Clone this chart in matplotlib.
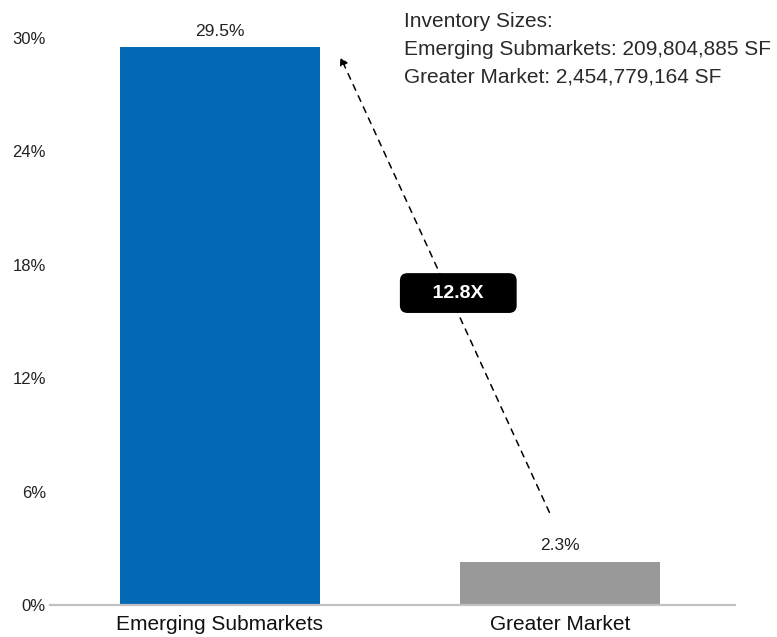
import matplotlib
matplotlib.use("Agg")
import matplotlib.pyplot as plt

categories = ["Emerging Submarkets", "Greater Market"]
values = [29.5, 2.3]
value_labels = ["29.5%", "2.3%"]
bar_colors = ["#0469b4", "#999999"]
yticks = [0, 6, 12, 18, 24, 30]
ytick_labels = ["0%", "6%", "12%", "18%", "24%", "30%"]
ratio_label = "12.8X"
inventory_lines = ["Inventory Sizes:",
                   "Emerging Submarkets: 209,804,885 SF",
                   "Greater Market: 2,454,779,164 SF"]

plt.rcParams["font.family"] = ["Liberation Sans", "DejaVu Sans"]

fig = plt.figure(figsize=(7.77, 6.37), dpi=100)
ax = fig.add_axes([50 / 777, 32 / 637, 685 / 777, 605 / 637])

x = list(range(len(categories)))
ax.bar(x, values, width=0.587, color=bar_colors, zorder=2)
for xi, v, lab in zip(x, values, value_labels):
    ax.annotate(lab, (xi, v), xytext=(0, 6), textcoords="offset points",
                ha="center", va="bottom", fontsize=12.5, color="#222222")

ax.set_xlim(-0.5, 1.515)
ax.set_ylim(0, 32)
ax.set_yticks(yticks)
ax.set_yticklabels(ytick_labels, fontsize=12, color="#222222")
ax.set_xticks(x)
ax.set_xticklabels(categories, fontsize=15, color="#111111")
ax.tick_params(axis="both", length=0)
ax.tick_params(axis="y", pad=3)
ax.tick_params(axis="x", pad=7)
for side in ["top", "right", "left"]:
    ax.spines[side].set_visible(False)
ax.spines["bottom"].set_color("#c0c0c0")
ax.spines["bottom"].set_linewidth(1.6)

# dashed arrow from the small bar up to the big one
ax.annotate("", xy=(0.354, 29.0), xytext=(0.969, 4.9),
            arrowprops=dict(arrowstyle="-|>", linestyle=(0, (4, 4)), lw=1.1,
                            color="black", mutation_scale=12,
                            shrinkA=0, shrinkB=0))
ax.text(0.701, 16.5, "    " + ratio_label + "    ", ha="center", va="center",
        fontsize=14, fontweight="bold", color="white", zorder=5,
        bbox=dict(boxstyle="round,pad=0.55,rounding_size=0.35",
                  fc="black", ec="black"))

fig.text(404 / 777, 1 - 12 / 637, "\n".join(inventory_lines), ha="left", va="top",
         fontsize=15, color="#2a2a2a", linespacing=1.58)

fig.savefig("out.png", dpi=100)
